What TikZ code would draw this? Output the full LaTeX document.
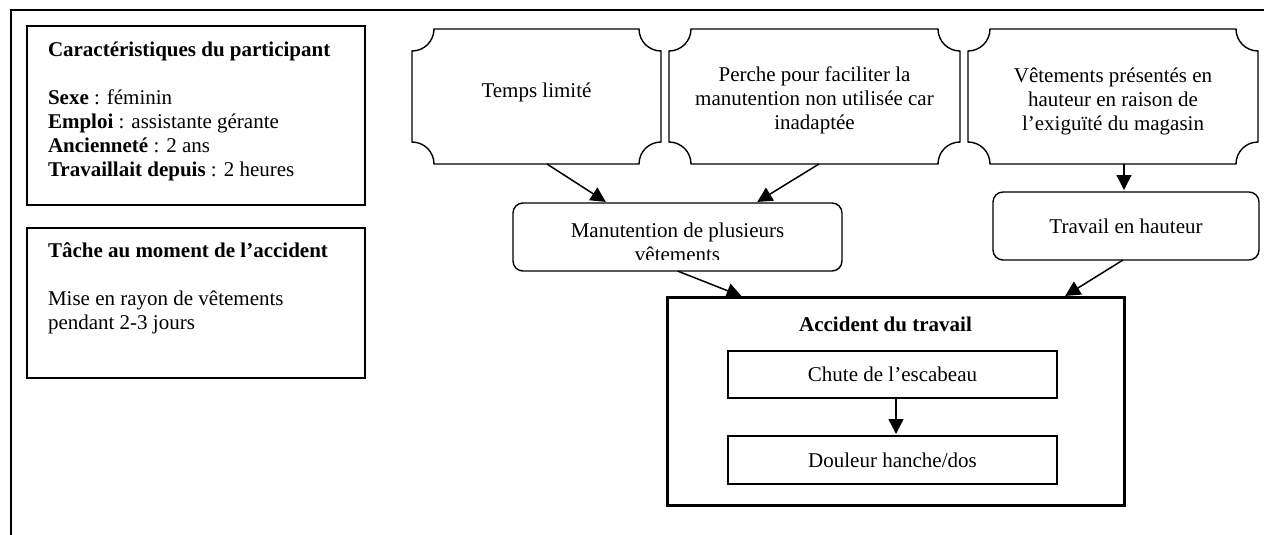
\documentclass[tikz,border=0pt]{standalone}
\usepackage{fontspec}
\setmainfont{Liberation Serif}
\usetikzlibrary{arrows.meta}

% outline of a plaque: rectangle with concave quarter-circle corners
\newcommand\plaqueoutline[1]{%
  \draw[plaqueline]
    ([xshift=22pt]#1.north west) -- ([xshift=-22pt]#1.north east)
    arc[start angle=180, end angle=270, radius=22pt]
    -- ([yshift=22pt]#1.south east)
    arc[start angle=90, end angle=180, radius=22pt]
    -- ([xshift=22pt]#1.south west)
    arc[start angle=0, end angle=90, radius=22pt]
    -- ([yshift=-22pt]#1.north west)
    arc[start angle=270, end angle=360, radius=22pt]
    -- cycle;}

\begin{document}
\begin{tikzpicture}[x=1pt, y=-1pt,
  every node/.style={inner sep=0pt, outer sep=0pt,
    font=\fontsize{21}{24}\selectfont},
  infobox/.style={draw, line width=2pt},
  plaque/.style={minimum height=135pt},
  plaqueline/.style={line width=1.4pt},
  roundbox/.style={draw, line width=1.4pt, rounded corners=10pt},
  plainbox/.style={draw, line width=1.8pt},
  accbox/.style={draw, line width=3pt},
  link/.style={line width=1.5pt, shorten >=2pt,
    -{Triangle[length=15pt, width=15pt]}},
]
\useasboundingbox (0,0) rectangle (1264,535);

% page frame (top and left edges)
\draw[line width=2pt] (11,535) -- (11,10) -- (1264,10);

% participant information
\node[infobox, minimum width=338pt, minimum height=179pt] (partic) at (196,115.5) {};
\node[anchor=north west, align=left] (partic-t) at (48,41.5)
  {\textbf{Caractéristiques du participant}\\[24pt]
   \textbf{Sexe} : féminin\\
   \textbf{Emploi} : assistante gérante\\
   \textbf{Ancienneté} : 2 ans\\
   \textbf{Travaillait depuis} : 2 heures};

\node[infobox, minimum width=338pt, minimum height=150pt] (tache) at (196,303) {};
\node[anchor=north west, align=left] (tache-t) at (48,242.5)
  {\textbf{Tâche au moment de l’accident}\\[24pt]
   Mise en rayon de vêtements\\
   pendant 2-3 jours};

% contributing factors
\node[plaque, minimum width=249pt] (temps) at (536.5,96.5) {};
\node[plaque, minimum width=291pt] (perche) at (814.5,96.5) {};
\node[plaque, minimum width=290pt] (vet) at (1113,96.5) {};
\plaqueoutline{temps}
\plaqueoutline{perche}
\plaqueoutline{vet}
\node[anchor=base] (temps-t) at (536.5,97) {Temps limité};
\node[anchor=north, align=center] (perche-t) at (814.5,66.5)
  {Perche pour faciliter la\\manutention non utilisée car\\inadaptée};
\node[anchor=north, align=center] (vet-t) at (1113,67.5)
  {Vêtements présentés en\\hauteur en raison de\\l’exiguïté du magasin};

% intermediate situations
\node[roundbox, minimum width=329pt, minimum height=68pt] (manut) at (677.5,237) {};
\begin{scope}
  \clip (513,203) rectangle (842,259.5);
  \node[anchor=north, align=center] (manut-t) at (677.5,223.3)
    {Manutention de plusieurs\\vêtements};
\end{scope}
\node[roundbox, minimum width=266pt, minimum height=68pt] (trav) at (1126,226)
  {Travail en hauteur};

% the accident
\node[accbox, minimum width=457pt, minimum height=208pt] (acc) at (895.5,401) {};
\node[anchor=base] (acc-t) at (885.5,331.5) {\textbf{Accident du travail}};
\node[plainbox, minimum width=329pt, minimum height=47pt] (chute) at (892.5,374.5)
  {Chute de l’escabeau};
\node[plainbox, minimum width=329pt, minimum height=48pt] (douleur) at (892.5,460)
  {Douleur hanche/dos};

% causal links
\draw[link] ([xshift=10.5pt]temps.south) -- ([xshift=-70pt]manut.north);
\draw[link] ([xshift=4.5pt]perche.south) -- ([xshift=78pt]manut.north);
\draw[link] ([xshift=11pt]vet.south) -- ([xshift=-2pt]trav.north);
\draw[link] (manut.south) -- ([xshift=-152pt]acc.north);
\draw[link] ([xshift=-3pt]trav.south) -- ([xshift=168pt]acc.north);
\draw[link] ([xshift=3.5pt]chute.south) -- ([xshift=3.5pt]douleur.north);
\end{tikzpicture}
\end{document}
